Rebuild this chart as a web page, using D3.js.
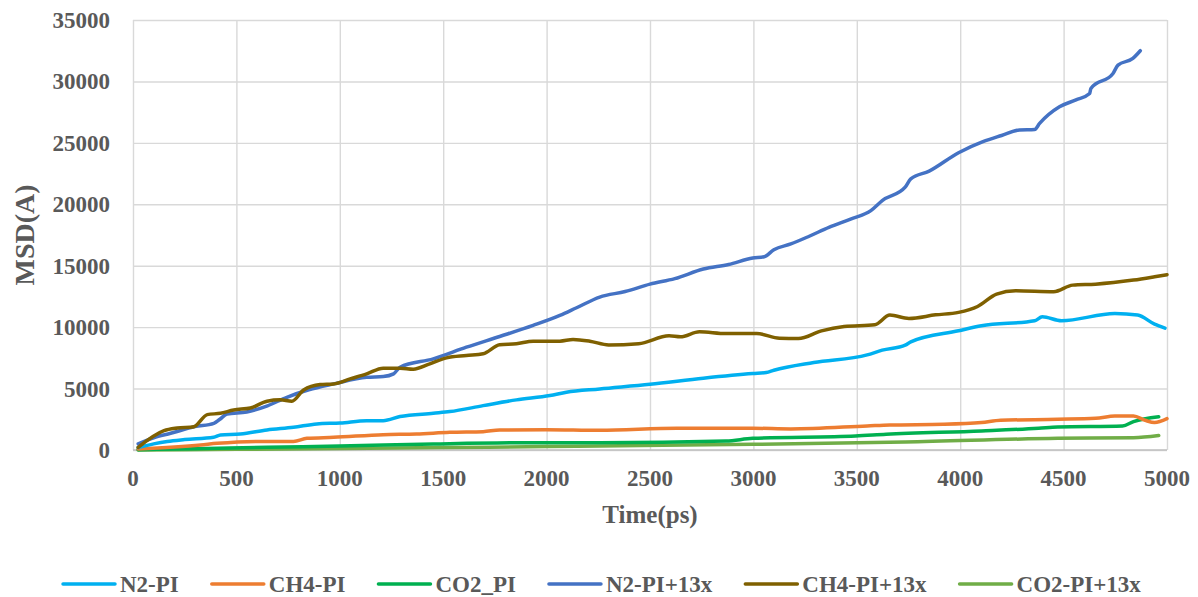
<!DOCTYPE html>
<meta charset="utf-8">
<style>

body {
  margin: 0;
  background: #fff;
}

text {
  font-family: "Liberation Serif", "Times New Roman", serif;
  font-weight: bold;
  fill: #595959;
}

</style>
<body>
<script src="https://cdn.jsdelivr.net/npm/d3@7"></script>
<script>

var width = 1198,
    height = 597,
    margin = {top: 20, right: 31, bottom: 147, left: 133};

// [time (ps), MSD]
var n2PI = [[25,200],[100,500],[166,700],[250,850],[390,1030],[423,1220],[519,1300],[648,1630],[776,1850],[889,2120],[1002,2200],[1130,2390],[1210,2390],[1291,2720],[1452,2990],[1532,3125],[1693,3610],[1854,4080],[2016,4430],[2096,4700],[2257,4970],[2500,5350],[2758,5840],[2997,6220],[3062,6300],[3099,6490],[3292,7120],[3550,7740],[3623,8125],[3734,8530],[3761,8800],[3992,9700],[4103,10110],[4360,10520],[4397,10840],[4490,10520],[4748,11110],[4858,10980],[4940,10240],[4990,9920]];

var ch4PI = [[25,80],[327,410],[407,540],[616,700],[776,700],[841,950],[970,1030],[1210,1250],[1371,1300],[1532,1440],[1693,1490],[1773,1630],[2000,1650],[2257,1600],[2629,1770],[2997,1770],[3181,1710],[3550,1960],[3660,2040],[3918,2090],[4103,2230],[4195,2420],[4471,2500],[4655,2580],[4748,2770],[4838,2770],[4894,2420],[4940,2230],[5000,2550]];

var co2PI = [[25,30],[300,100],[648,220],[1000,320],[1452,490],[1935,600],[2257,600],[2868,730],[2997,950],[3494,1140],[3642,1280],[4103,1550],[4379,1770],[4471,1875],[4785,1960],[4838,2310],[4960,2700]];

var n2PI13x = [[25,500],[100,1000],[182,1360],[300,1900],[391,2170],[420,2500],[455,2935],[550,3100],[650,3600],[744,4290],[850,4900],[970,5380],[1130,5920],[1210,5980],[1260,6200],[1291,6740],[1452,7420],[1612,8370],[1773,9240],[1935,10140],[2064,10950],[2145,11580],[2257,12450],[2380,12900],[2500,13500],[2620,13950],[2758,14730],[2880,15100],[2997,15625],[3052,15730],[3099,16300],[3181,16770],[3270,17400],[3365,18125],[3470,18800],[3568,19480],[3623,20300],[3734,21390],[3761,22070],[3850,22700],[3992,24200],[4110,25100],[4200,25600],[4287,26050],[4360,26090],[4384,26580],[4480,27930],[4560,28500],[4626,29020],[4632,29430],[4739,30650],[4763,31330],[4835,31875],[4871,32500]];

var ch4PI13x = [[25,220],[150,1576],[214,1790],[294,1900],[359,2880],[423,2990],[487,3260],[568,3420],[648,3970],[712,4080],[768,3970],[825,4890],[905,5330],[970,5380],[1050,5790],[1130,6200],[1210,6660],[1291,6660],[1355,6580],[1435,7010],[1516,7500],[1612,7690],[1693,7830],[1773,8560],[1854,8640],[1935,8860],[2064,8860],[2128,9000],[2209,8860],[2300,8550],[2445,8650],[2592,9290],[2647,9210],[2739,9620],[2868,9480],[3016,9480],[3126,9100],[3218,9080],[3329,9700],[3439,10050],[3587,10190],[3660,10980],[3752,10710],[3881,11000],[3992,11200],[4084,11680],[4176,12690],[4268,12960],[4452,12880],[4544,13420],[4654,13500],[4838,13830],[4940,14100],[5000,14270]];

var co2PI13x = [[25,0],[500,60],[1000,120],[1500,200],[2000,280],[2257,330],[2997,460],[3734,650],[4471,950],[4838,1000],[4960,1180]];

var seriesNames = ["N2-PI", "CH4-PI", "CO2_PI", "N2-PI+13x", "CH4-PI+13x", "CO2-PI+13x"],
    seriesData = [n2PI, ch4PI, co2PI, n2PI13x, ch4PI13x, co2PI13x],
    colors = ["#00b0f0", "#ed7d31", "#00b050", "#4472c4", "#7f6000", "#70ad47"];

var xTicks = d3.range(0, 5001, 500),
    yTicks = d3.range(0, 35001, 5000);

var svg = d3.select("body").append("svg")
    .attr("width", width)
    .attr("height", height);

var x = d3.scaleLinear().domain([0, 5000]).range([margin.left, width - margin.right]),
    y = d3.scaleLinear().domain([0, 35000]).range([height - margin.bottom, margin.top]);

// grid
svg.append("g")
    .attr("transform", "translate(0," + (height - margin.bottom) + ")")
    .call(d3.axisBottom(x).tickValues(xTicks).tickSize(-(height - margin.top - margin.bottom)).tickFormat(""))
    .call(function(g) { g.select(".domain").remove(); })
    .selectAll("line").attr("stroke", "#d9d9d9").attr("stroke-width", 1.4);

svg.append("g")
    .attr("transform", "translate(" + margin.left + ",0)")
    .call(d3.axisLeft(y).tickValues(yTicks).tickSize(-(width - margin.left - margin.right)).tickFormat(""))
    .call(function(g) { g.select(".domain").remove(); })
    .selectAll("line").attr("stroke", "#d9d9d9").attr("stroke-width", 1.4);

svg.append("line")
    .attr("x1", margin.left).attr("x2", width - margin.right)
    .attr("y1", y(0)).attr("y2", y(0))
    .attr("stroke", "#bfbfbf").attr("stroke-width", 1.5);

// tick labels
svg.selectAll(".xlab")
    .data(xTicks)
  .enter().append("text")
    .attr("x", function(d) { return x(d); })
    .attr("y", y(0) + 36)
    .attr("text-anchor", "middle")
    .style("font-size", "23px")
    .text(function(d) { return d; });

svg.selectAll(".ylab")
    .data(yTicks)
  .enter().append("text")
    .attr("x", margin.left - 23)
    .attr("y", function(d) { return y(d) + 8; })
    .attr("text-anchor", "end")
    .style("font-size", "23px")
    .text(function(d) { return d; });

svg.append("text")
    .attr("x", (margin.left + width - margin.right) / 2)
    .attr("y", 523)
    .attr("text-anchor", "middle")
    .style("font-size", "25px")
    .text("Time(ps)");

svg.append("text")
    .attr("transform", "translate(34," + (y(17500)) + ") rotate(-90)")
    .attr("text-anchor", "middle")
    .style("font-size", "28px")
    .text("MSD(A)");

// lines
var line = d3.line()
    .x(function(d) { return x(d[0]); })
    .y(function(d) { return y(d[1]); })
    .curve(d3.curveMonotoneX);

var drawOrder = [5, 2, 1, 0, 3, 4];
drawOrder.forEach(function(i) {
  svg.append("path")
      .datum(seriesData[i])
      .attr("fill", "none")
      .attr("stroke", colors[i])
      .attr("stroke-width", 3.5)
      .attr("stroke-linecap", "round")
      .attr("stroke-linejoin", "round")
      .attr("d", line);
});

// legend
var legend = svg.append("g").attr("transform", "translate(63,584)");
var lx = 0;
seriesNames.forEach(function(name, i) {
  var item = legend.append("g").attr("transform", "translate(" + lx + ",0)");
  item.append("line")
      .attr("x1", 0).attr("x2", 52)
      .attr("stroke", colors[i])
      .attr("stroke-width", 3.5)
      .attr("stroke-linecap", "round");
  var t = item.append("text")
      .attr("x", 57)
      .attr("y", 8)
      .style("font-size", "23px")
      .text(name);
  lx += 57 + t.node().getComputedTextLength() + 33;
});

</script>
